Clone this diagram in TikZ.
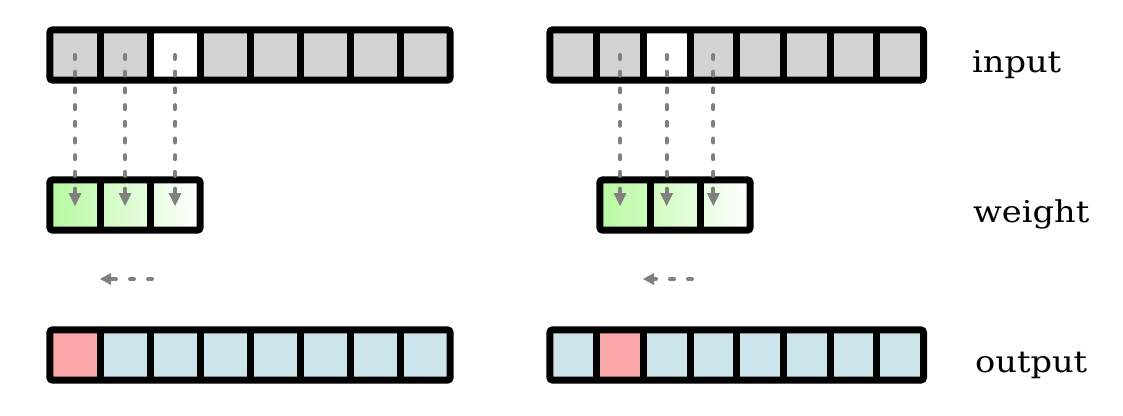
\documentclass[tikz,border=0pt]{standalone}
\usepackage{fontspec}
\newfontfamily\labfont[FakeStretch=1.12]{DejaVu Serif}
\usetikzlibrary{arrows.meta}
\definecolor{grayc}{RGB}{211,211,211}
\definecolor{bluec}{RGB}{205,229,234}
\definecolor{redc}{RGB}{253,168,168}
\definecolor{g0}{RGB}{183,249,160}
\colorlet{g1}{g0!66!white}
\colorlet{g2}{g0!33!white}
\colorlet{g3}{white}
\definecolor{arrc}{RGB}{128,128,128}
\tikzset{
  cell/.style={rectangle, inner sep=0pt, minimum height=50pt, minimum width=#1},
  cell/.default=50pt,
  frame/.style={draw=black, line width=7pt, rounded corners=3pt},
  sep/.style={draw=black, line width=7pt},
  vdot/.style={draw=arrc, line width=4pt, line cap=round, dash pattern=on 4pt off 12.7pt, -{Triangle[length=13pt,width=13pt,line width=0pt]}},
  hdash/.style={draw=arrc, line width=4pt, line cap=round, dash pattern=on 4pt off 14pt, -{Triangle[length=11pt,width=12pt,line width=0pt]}},
  lab/.style={anchor=base west, inner sep=0pt, font=\labfont\fontsize{30}{36}\selectfont}
}
\begin{document}
\begin{tikzpicture}[x=1pt,y=-1pt]
\useasboundingbox (0,0) rectangle (1123,415);
% ---------- left group ----------
\foreach \i/\c in {1/grayc,2/grayc,3/white,4/grayc,5/grayc,6/grayc,7/grayc,8/grayc}
  \node[cell, fill=\c] (Li\i) at ({50+50*(\i-0.5)},55) {};
\foreach \i/\a/\b in {1/g0/g1,2/g1/g2,3/g2/g3}
  \node[cell, left color=\a, right color=\b] (Lw\i) at ({50+50*(\i-0.5)},205) {};
\foreach \i/\c in {1/redc,2/bluec,3/bluec,4/bluec,5/bluec,6/bluec,7/bluec,8/bluec}
  \node[cell, fill=\c] (Lo\i) at ({50+50*(\i-0.5)},355) {};
% ---------- right group ----------
\foreach \i/\c in {1/grayc,2/grayc,3/white,4/grayc,5/grayc,6/grayc,7/grayc,8/grayc}
  \node[cell=46.67pt, fill=\c] (Ri\i) at ({550+46.67*(\i-0.5)},55) {};
\foreach \i/\a/\b in {1/g0/g1,2/g1/g2,3/g2/g3}
  \node[cell, left color=\a, right color=\b] (Rw\i) at ({600+50*(\i-0.5)},205) {};
\foreach \i/\c in {1/bluec,2/redc,3/bluec,4/bluec,5/bluec,6/bluec,7/bluec,8/bluec}
  \node[cell=46.67pt, fill=\c] (Ro\i) at ({550+46.67*(\i-0.5)},355) {};
% ---------- frames and separators ----------
\foreach \r in {Li,Lo,Ri,Ro}{
  \foreach \i in {1,...,7}
    \draw[sep] (\r\i.north east) -- (\r\i.south east);
  \draw[frame] (\r1.north west) rectangle (\r8.south east);
}
\foreach \r in {Lw,Rw}{
  \foreach \i in {1,2}
    \draw[sep] (\r\i.north east) -- (\r\i.south east);
  \draw[frame] (\r1.north west) rectangle (\r3.south east);
}
% ---------- vertical dotted arrows ----------
\foreach \i in {1,2,3}
  \draw[vdot] (Li\i.center) -- ([yshift=-1pt]Lw\i.center);
\foreach \i/\j in {1/2,2/3,3/4}
  \draw[vdot] (Ri\j.center) -- ([yshift=-1pt]Ri\j.center |- Rw\i.center);
% ---------- horizontal dashed arrows ----------
\coordinate (La) at (152,279);
\coordinate (Lb) at (100,279);
\coordinate (Ra) at (692,279);
\coordinate (Rb) at (643,279);
\draw[hdash] (La) -- (Lb);
\draw[hdash] (Ra) -- (Rb);
% ---------- labels ----------
\node[lab] (tin) at (972,72) {input};
\node[lab] (twe) at (973,222) {weight};
\node[lab] (tout) at (975,372) {output};
\end{tikzpicture}
\end{document}
